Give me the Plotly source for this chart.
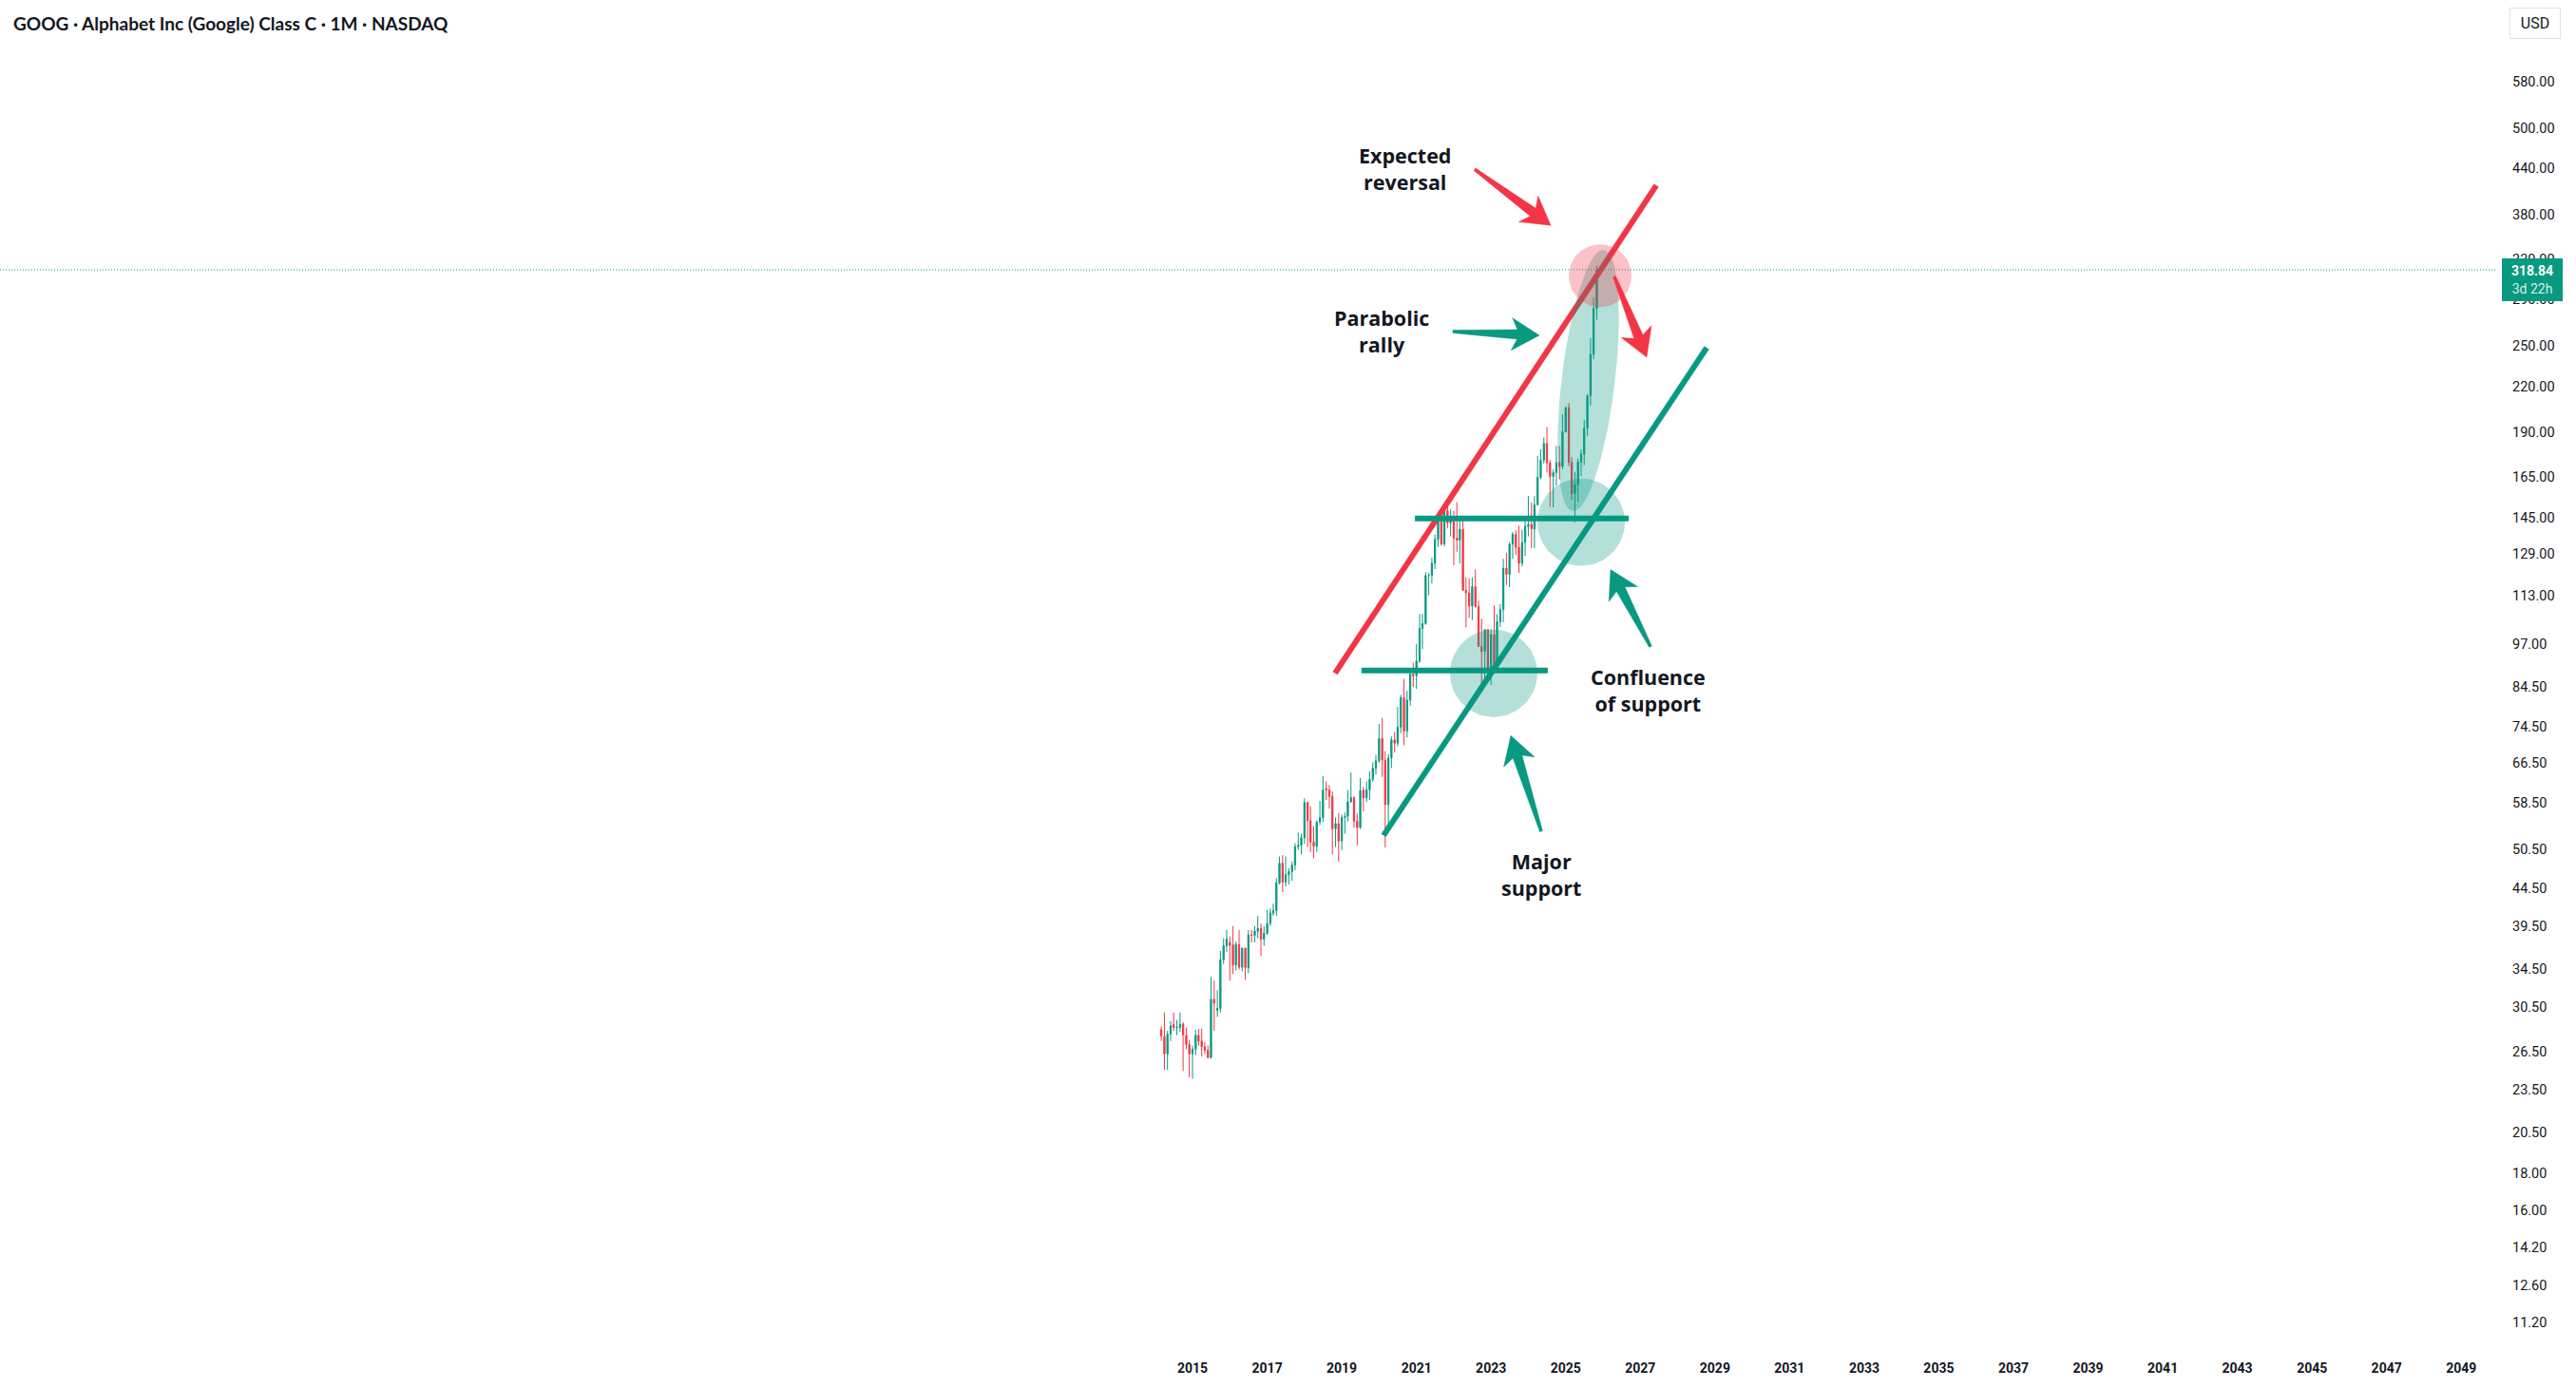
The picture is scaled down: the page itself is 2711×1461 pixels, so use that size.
import math
from datetime import datetime, timedelta
import pandas as pd
import plotly.graph_objects as go

# ---------------- data (monthly GOOG candles, USD) ----------------
START_MONTH = "2014-03-01"
OPEN = [28.40, 27.80, 26.30, 28.00, 28.90, 28.60, 28.60, 28.90, 27.90, 27.10,
        26.30, 26.70, 27.90, 27.40, 26.90, 26.60, 26.00, 31.30, 30.20, 30.40, 35.50, 37.10,
        37.50, 37.20, 34.90, 37.25, 34.65, 36.80, 34.60, 38.40, 38.35, 38.86, 39.20, 37.90,
        38.60, 39.84, 41.16, 41.48, 45.30, 48.24, 45.44, 46.53, 46.97, 47.96, 50.83, 51.07,
        52.32, 58.50, 55.24, 51.59, 50.93, 55.00, 55.78, 61.20, 60.90, 59.67, 53.84, 54.72,
        51.78, 55.82, 56.00, 58.67, 59.42, 55.18, 54.05, 60.83, 59.40, 60.95, 63.00, 65.25,
        66.85, 71.71, 66.97, 58.14, 67.43, 71.45, 70.68, 74.40, 81.71, 73.48, 81.05, 88.04,
        87.59, 91.79, 101.84, 103.43, 120.50, 120.58, 125.32, 135.22, 145.46, 133.27, 148.27, 142.45,
        144.68, 135.70, 134.89, 139.65, 114.97, 114.04, 109.37, 116.32, 109.15, 96.15, 94.66, 101.45,
        88.73, 99.87, 90.30, 104.00, 108.22, 123.37, 120.97, 133.11, 137.35, 131.85, 125.30, 133.92,
        140.93, 141.80, 139.78, 150.93, 164.64, 173.96, 183.42, 172.45, 165.11, 167.19, 172.69, 170.49,
        190.44, 205.60, 172.73, 156.37, 160.89, 172.85, 177.39, 192.58, 213.53, 243.55, 281.82]
HIGH = [28.70, 30.00, 28.30, 29.20, 30.00, 29.30, 30.00, 29.10, 28.60, 27.50,
        27.00, 28.40, 28.50, 28.50, 27.30, 27.00, 33.60, 33.20, 32.20, 36.50, 38.00, 39.00,
        38.20, 39.50, 37.60, 39.00, 36.90, 36.90, 39.00, 39.00, 39.50, 40.80, 39.80, 39.50,
        41.60, 41.80, 42.40, 46.00, 49.30, 49.50, 49.30, 47.50, 48.50, 51.40, 53.20, 53.00,
        59.30, 58.70, 57.80, 54.30, 55.30, 58.80, 63.70, 62.60, 61.90, 60.60, 55.80, 56.60,
        56.30, 56.70, 60.90, 64.40, 59.70, 56.50, 63.30, 61.50, 62.60, 64.60, 66.50, 68.10,
        75.10, 76.60, 68.90, 68.30, 72.20, 73.20, 79.30, 82.40, 86.70, 83.50, 89.40, 91.30,
        96.90, 106.60, 106.70, 121.80, 121.50, 127.50, 137.30, 146.20, 146.80, 148.80, 151.90, 148.70,
        148.10, 152.10, 143.80, 143.80, 119.90, 119.40, 119.80, 122.90, 111.30, 105.00, 101.50, 101.60,
        101.60, 109.60, 106.60, 110.00, 127.10, 129.60, 134.10, 138.40, 139.20, 141.20, 139.40, 143.90,
        155.20, 152.00, 155.20, 176.40, 180.10, 187.00, 193.30, 174.10, 168.80, 182.10, 182.00, 201.40,
        206.40, 208.70, 175.60, 167.60, 174.80, 180.00, 197.90, 214.70, 256.70, 291.60, 323.00]
LOW = [27.40, 25.00, 25.00, 27.40, 28.30, 27.90, 28.20, 24.90, 26.70, 24.40,
       24.30, 26.20, 27.00, 26.10, 26.30, 25.90, 25.90, 28.30, 29.60, 30.00, 35.00, 36.40,
       33.20, 33.90, 34.30, 34.40, 34.20, 33.30, 34.00, 37.50, 37.50, 38.00, 35.90, 37.10,
       38.40, 39.50, 40.80, 40.80, 45.10, 44.00, 44.80, 45.10, 45.60, 47.20, 50.30, 49.60,
       51.30, 50.80, 50.00, 49.00, 50.00, 54.50, 55.00, 59.00, 57.40, 49.60, 50.80, 48.50,
       50.30, 53.00, 55.10, 58.50, 54.00, 51.00, 53.80, 56.90, 58.60, 59.00, 62.50, 64.00,
       66.40, 63.50, 50.70, 54.00, 65.30, 68.60, 70.00, 73.00, 70.20, 72.00, 79.60, 84.50,
       84.00, 91.20, 95.30, 103.00, 113.20, 117.50, 123.00, 132.00, 132.60, 132.30, 140.00, 136.50,
       124.60, 130.00, 125.30, 114.80, 102.20, 105.40, 104.60, 108.80, 96.10, 83.45, 85.90, 86.60,
       85.10, 89.00, 89.90, 102.30, 103.90, 116.90, 116.10, 127.00, 128.60, 121.50, 124.10, 128.30,
       136.50, 131.60, 131.50, 150.60, 163.70, 172.10, 167.30, 150.00, 149.70, 160.50, 163.60, 169.10,
       189.90, 170.60, 153.40, 142.70, 152.30, 165.30, 171.20, 188.00, 206.90, 240.00, 272.00]
CLOSE = [27.85, 26.30, 28.00, 28.76, 28.60, 28.65, 28.90, 27.95, 27.10, 26.30,
         26.70, 27.90, 27.40, 26.90, 26.60, 26.00, 31.30, 30.90, 30.40, 35.50, 37.10, 37.90,
         37.15, 34.90, 37.25, 34.65, 36.80, 34.60, 38.40, 38.35, 38.86, 39.20, 37.90, 38.60,
         39.84, 41.16, 41.48, 45.30, 48.24, 45.44, 46.53, 46.97, 47.96, 50.83, 51.07, 52.32,
         58.50, 55.24, 51.59, 50.93, 55.00, 55.78, 60.86, 60.90, 59.67, 53.84, 54.72, 51.78,
         55.82, 56.00, 58.67, 59.42, 55.18, 54.05, 60.83, 59.40, 60.95, 63.00, 65.25, 66.85,
         71.71, 66.97, 58.14, 67.43, 71.45, 70.68, 74.40, 81.71, 73.48, 81.05, 88.04, 87.59,
         91.79, 101.84, 103.43, 120.50, 120.58, 125.32, 135.22, 145.46, 133.27, 148.27, 142.45, 144.68,
         135.70, 134.89, 139.65, 114.97, 114.04, 109.37, 116.32, 109.15, 96.15, 94.66, 101.45, 88.73,
         99.87, 90.30, 104.00, 108.22, 123.37, 120.97, 133.11, 137.35, 131.85, 125.30, 133.92, 140.93,
         141.80, 139.78, 150.93, 164.64, 173.96, 183.42, 172.45, 165.11, 167.19, 172.69, 170.49, 190.44,
         205.60, 172.73, 156.37, 160.89, 172.85, 177.39, 192.58, 213.53, 243.55, 281.82, 318.84]

LAST_PRICE = 318.84
COUNTDOWN = "3d 22h"
Y_TICKS = [11.2, 12.6, 14.2, 16.0, 18.0, 20.5, 23.5, 26.5, 30.5, 34.5, 39.5, 44.5, 50.5,
           58.5, 66.5, 74.5, 84.5, 97.0, 113.0, 129.0, 145.0, 165.0, 190.0, 220.0, 250.0,
           290.0, 330.0, 380.0, 440.0, 500.0, 580.0]
X_TICK_YEARS = list(range(2015, 2050, 2))
TITLE = "GOOG · Alphabet Inc (Google) Class C · 1M · NASDAQ"

months = pd.date_range(START_MONTH, periods=len(CLOSE), freq="MS")

# ---------------- drawings (decimal year, price) ----------------
RED_CHANNEL = [(2018.82, 88.3), (2027.43, 417.0)]
GREEN_CHANNEL = [(2020.12, 52.7), (2028.78, 248.8)]
UPPER_SUPPORT = [(2020.96, 144.5), (2026.69, 144.5)]
LOWER_SUPPORT = [(2019.53, 89.1), (2024.52, 89.1)]
# center, semi axes in px, rotation deg, colour
ZONES = [
    ((2023.07, 88.3), 46, 46, 0, "rgba(8,153,129,0.3)"),
    ((2025.415, 142.8), 46, 46, 0, "rgba(8,153,129,0.3)"),
    ((2025.606, 224.2), 138.5, 28, 83.2, "rgba(8,153,129,0.3)"),
    ((2025.924, 312.8), 33, 33, 0, "rgba(242,54,69,0.3)"),
]
GREEN = "#089981"
RED = "#F23645"
ARROWS = [
    ((2022.563, 438.9), (2024.600, 367.3), RED),
    ((2021.977, 261.9), (2024.295, 258.8), GREEN),
    ((2026.306, 312.0), (2027.172, 241.4), RED),
    ((2027.274, 96.1), (2026.204, 122.8), GREEN),
    ((2024.345, 53.4), (2023.531, 72.4), GREEN),
]
# label centre (decimal year, price) and text
LABELS = [
    (2020.679, 440.0, "Expected<br>reversal"),
    (2020.067, 262.3, "Parabolic<br>rally"),
    (2027.198, 83.7, "Confluence<br>of support"),
    (2024.345, 46.6, "Major<br>support"),
]

# ---------------- axis geometry ----------------
W, H = 2711, 1461
ML, MR, MT, MB = 0, 83, 0, 47
PW, PH = W - ML - MR, H - MT - MB
X0Y, X1Y = 1983.042, 2049.963
LOG_TOP, LOG_BOT = 2.87634, 1.01996
EPOCH = datetime(1970, 1, 1)


def yd(y):
    return EPOCH + timedelta(days=(y - 1970) * 365.2425)


def px_x(y):
    return (y - X0Y) / (X1Y - X0Y) * PW


def x_px(p):
    return yd(X0Y + p / PW * (X1Y - X0Y))


def px_y(v):
    return (LOG_TOP - math.log10(v)) / (LOG_TOP - LOG_BOT) * PH


def y_px(p):
    return 10 ** (LOG_TOP - p / PH * (LOG_TOP - LOG_BOT))


def ellipse(center, a, b, ang, n=90):
    cx, cy = px_x(center[0]), px_y(center[1])
    th = math.radians(ang)
    xs, ys = [], []
    for k in range(n + 1):
        t = 2 * math.pi * k / n
        ex, ey = a * math.cos(t), b * math.sin(t)
        X = cx + ex * math.cos(th) - ey * math.sin(th)
        Y = cy - (ex * math.sin(th) + ey * math.cos(th))
        xs.append(x_px(X))
        ys.append(y_px(Y))
    return xs, ys


def arrow(tail, tip, h=29, wh=17, w0=1.5, w1=5):
    tx, ty = px_x(tail[0]), px_y(tail[1])
    qx, qy = px_x(tip[0]), px_y(tip[1])
    dx, dyy = qx - tx, qy - ty
    L = math.hypot(dx, dyy)
    ux, uy = dx / L, dyy / L
    nx, ny = -uy, ux
    loc = [(0, w0), (L - 0.8 * h, w1), (L - h, wh), (L, 0), (L - h, -wh),
           (L - 0.8 * h, -w1), (0, -w0), (0, w0)]
    xs, ys = [], []
    for s, t in loc:
        xs.append(x_px(tx + ux * s + nx * t))
        ys.append(y_px(ty + uy * s + ny * t))
    return xs, ys


fig = go.Figure()

# last price dotted line
fig.add_trace(go.Scatter(x=[yd(X0Y), yd(X1Y)], y=[LAST_PRICE, LAST_PRICE], mode="lines",
                         line=dict(color=GREEN, width=1, dash="1px,2px"), hoverinfo="skip"))

fig.add_trace(go.Candlestick(
    x=months, open=OPEN, high=HIGH, low=LOW, close=CLOSE,
    increasing=dict(line=dict(color=GREEN, width=1), fillcolor=GREEN),
    decreasing=dict(line=dict(color=RED, width=1), fillcolor=RED),
    whiskerwidth=0, hoverinfo="skip"))

for pts, col in [(RED_CHANNEL, RED), (GREEN_CHANNEL, GREEN), (UPPER_SUPPORT, GREEN), (LOWER_SUPPORT, GREEN)]:
    fig.add_trace(go.Scatter(x=[yd(p[0]) for p in pts], y=[p[1] for p in pts], mode="lines",
                             line=dict(color=col, width=6), hoverinfo="skip"))

for c, a, b, ang, col in ZONES:
    xs, ys = ellipse(c, a, b, ang)
    fig.add_trace(go.Scatter(x=xs, y=ys, mode="lines", fill="toself", fillcolor=col,
                             line=dict(width=0), hoverinfo="skip"))

for tail, tip, col in ARROWS:
    xs, ys = arrow(tail, tip)
    fig.add_trace(go.Scatter(x=xs, y=ys, mode="lines", fill="toself", fillcolor=col,
                             line=dict(width=0.5, color=col), hoverinfo="skip"))

ann = []
for yr, pr, txt in LABELS:
    ann.append(dict(x=yd(yr), y=math.log10(pr), xref="x", yref="y", text=txt, showarrow=False,
                    font=dict(family="Open Sans", size=21.5, color="#131722", weight="bold"),
                    xanchor="center", yanchor="middle", align="center"))

ann.append(dict(x=12 / PW, y=1 - 24 / PH, xref="paper", yref="paper", text=TITLE, showarrow=False,
                xanchor="left", yanchor="middle",
                font=dict(family="Lato", size=19, color="#131722", weight="bold")))

ann.append(dict(x=2668 / PW, y=1 - 24.5 / PH, xref="paper", yref="paper", text="USD", showarrow=False,
                xanchor="center", yanchor="middle", width=48, height=27, borderpad=2,
                bordercolor="#e0e3eb", borderwidth=1, bgcolor="white",
                font=dict(family="Roboto", size=16, color="#131722")))

ann.append(dict(x=2633 / PW, y=math.log10(LAST_PRICE), xref="paper", yref="y",
                text=f"<b>{LAST_PRICE:.2f}</b><br><span style='color:rgba(255,255,255,0.85)'>{COUNTDOWN}</span>",
                showarrow=False, xanchor="left", yanchor="top", yshift=12, align="center",
                width=60, height=41, borderpad=2, bgcolor=GREEN, borderwidth=0,
                font=dict(family="Roboto", size=14, color="white")))

fig.update_layout(
    template="none",
    width=W, height=H,
    margin=dict(l=ML, r=MR, t=MT, b=MB, autoexpand=False),
    paper_bgcolor="white", plot_bgcolor="white",
    showlegend=False, boxgap=0.4,
    annotations=ann,
    xaxis=dict(type="date", range=[yd(X0Y), yd(X1Y)], showgrid=False, zeroline=False, showline=False,
               ticks="", tickmode="array", tickvals=[datetime(y, 1, 1) for y in X_TICK_YEARS],
               ticktext=[str(y) for y in X_TICK_YEARS], ticklabelstandoff=16,
               tickfont=dict(family="Roboto", size=14, color="#131722", weight="bold"),
               rangeslider=dict(visible=False), automargin=False, fixedrange=True),
    yaxis=dict(type="log", range=[LOG_BOT, LOG_TOP], side="right", showgrid=False, zeroline=False,
               showline=False, ticks="", tickmode="array", tickvals=Y_TICKS,
               ticktext=[f"{v:.2f}" for v in Y_TICKS], ticklabelstandoff=15,
               tickfont=dict(family="Roboto", size=14.5, color="#131722"),
               automargin=False, fixedrange=True),
)

fig.write_html("out.html")
